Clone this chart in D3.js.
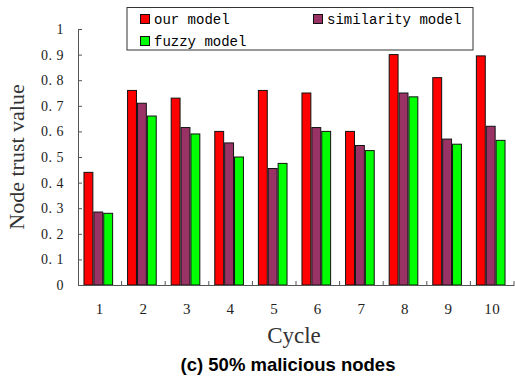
<!DOCTYPE html>
<html>
<head>
<meta charset="utf-8">
<script src="https://cdn.jsdelivr.net/npm/d3@7"></script>
<style>
  body { margin: 0; background: #fff; }
  .tick text { font-family: "Liberation Serif", serif; font-size: 14px; fill: #222; letter-spacing: 0.5px; }
</style>
</head>
<body>
<script>
// chart data
var cycles = ["1", "2", "3", "4", "5", "6", "7", "8", "9", "10"];
var seriesNames = ["our model", "similarity model", "fuzzy model"];
var ourModel = [0.44, 0.76, 0.73, 0.60, 0.76, 0.75, 0.60, 0.90, 0.81, 0.895];
var similarityModel = [0.285, 0.71, 0.615, 0.555, 0.455, 0.615, 0.545, 0.75, 0.57, 0.62];
var fuzzyModel = [0.28, 0.66, 0.59, 0.50, 0.475, 0.60, 0.525, 0.735, 0.55, 0.565];
var yTicks = [0, 0.1, 0.2, 0.3, 0.4, 0.5, 0.6, 0.7, 0.8, 0.9, 1];
var colors = ["#ff0000", "#993366", "#00ff00"];

var margin = {top: 29, right: 1, bottom: 92, left: 78},
    width = 515 - margin.left - margin.right,
    height = 377 - margin.top - margin.bottom;

var svg = d3.select("body").append("svg")
    .attr("width", 515)
    .attr("height", 377)
  .append("g")
    .attr("transform", "translate(" + margin.left + "," + margin.top + ")");

var x = d3.scaleBand().domain(cycles).range([0, width]).paddingInner(0).paddingOuter(0);
var xs = d3.scaleBand().domain(seriesNames).range([0, x.bandwidth() * 0.68]).padding(0);
var y = d3.scaleLinear().domain([0, 1]).range([height, 0]);

var rows = cycles.map(function(c, i) {
  return {cycle: c, values: [ourModel[i], similarityModel[i], fuzzyModel[i]]};
});

// bars
var groupOffset = (x.bandwidth() - xs.range()[1]) / 2 - 1.5;
var groups = svg.selectAll(".grp")
    .data(rows)
  .enter().append("g")
    .attr("transform", function(d) { return "translate(" + (x(d.cycle) + groupOffset) + ",0)"; });

groups.selectAll("rect")
    .data(function(d) { return d.values.map(function(v, j) { return {name: seriesNames[j], v: v, j: j}; }); })
  .enter().append("rect")
    .attr("x", function(d) { return xs(d.name) + 0.5; })
    .attr("y", function(d) { return y(d.v); })
    .attr("width", xs.bandwidth() - 1)
    .attr("height", function(d) { return height - y(d.v); })
    .attr("fill", function(d) { return colors[d.j]; })
    .attr("stroke", "#111")
    .attr("stroke-width", 1);

// y axis
var yAxis = svg.append("g")
    .call(d3.axisLeft(y).tickValues(yTicks).tickSizeInner(-4).tickSizeOuter(0).tickPadding(14)
      .tickFormat(function(d) { return d === 0 || d === 1 ? d : d3.format(".1f")(d).replace(".", ". "); }));
yAxis.select(".domain").attr("stroke", "#555");
yAxis.selectAll(".tick line").attr("stroke", "#555");

// x axis, ticks sit on category boundaries
var xAxis = svg.append("g")
    .attr("transform", "translate(0," + height + ")")
    .call(d3.axisBottom(x).tickSize(0).tickPadding(18));
xAxis.select(".domain").attr("stroke", "#555");
xAxis.selectAll(".tick text").style("font-size", "15px");
svg.append("g").selectAll("line")
    .data(cycles.slice(1).concat(["end"]))
  .enter().append("line")
    .attr("x1", function(d) { return d === "end" ? width : x(d); })
    .attr("x2", function(d) { return d === "end" ? width : x(d); })
    .attr("y1", height)
    .attr("y2", height - 4)
    .attr("stroke", "#555");

// axis titles
svg.append("text")
    .attr("transform", "translate(" + (width / 2 - 2) + "," + (height + 58) + ")")
    .style("text-anchor", "middle")
    .style("font-family", "Liberation Serif, serif")
    .style("font-size", "23px")
    .style("fill", "#333")
    .text("Cycle");

svg.append("text")
    .attr("transform", "rotate(-90)")
    .attr("x", -(157 - margin.top))
    .attr("y", -54)
    .style("text-anchor", "middle")
    .style("font-family", "Liberation Serif, serif")
    .style("font-size", "22px")
    .style("fill", "#333")
    .text("Node trust value");

// caption
svg.append("text")
    .attr("x", 288 - margin.left)
    .attr("y", 371 - margin.top)
    .style("text-anchor", "middle")
    .style("font-family", "Liberation Sans, Arial, sans-serif")
    .style("font-weight", "bold")
    .style("font-size", "18.5px")
    .text("(c) 50% malicious nodes");

// legend
var legend = d3.select("svg").append("g");
legend.append("rect")
    .attr("x", 127).attr("y", 7.5)
    .attr("width", 346).attr("height", 42.5)
    .attr("fill", "#fff").attr("stroke", "#333");
var legPos = [[140, 14], [313, 14], [140, 36]];
seriesNames.forEach(function(name, i) {
  legend.append("rect")
      .attr("x", legPos[i][0] + 0.5).attr("y", legPos[i][1] + 0.5)
      .attr("width", 9).attr("height", 9)
      .attr("fill", colors[i]).attr("stroke", "#111");
  legend.append("text")
      .attr("x", legPos[i][0] + 14).attr("y", legPos[i][1] + 9.5)
      .style("font-family", "Liberation Mono, monospace")
      .style("font-size", "14px")
      .text(name);
});
</script>
</body>
</html>
